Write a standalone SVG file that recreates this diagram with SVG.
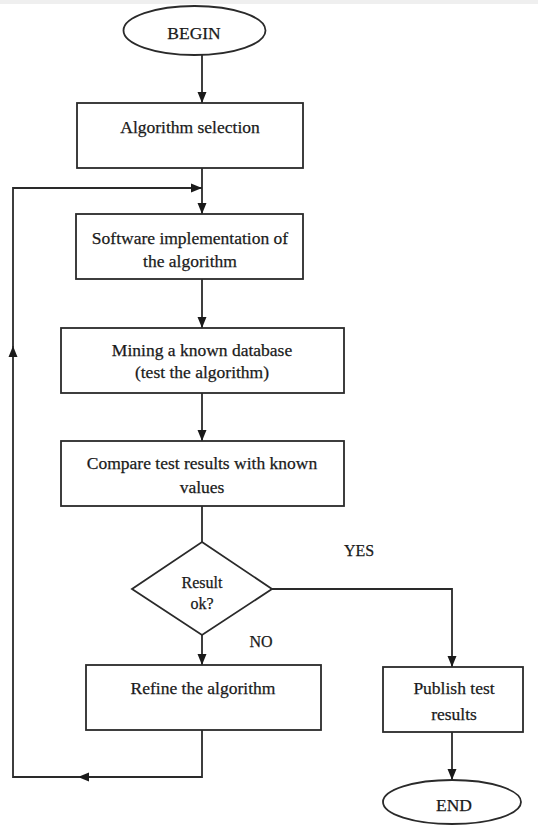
<svg xmlns="http://www.w3.org/2000/svg" width="538" height="825" viewBox="0 0 538 825">
<style>
.s{fill:#fff;stroke:#2a2a2a;stroke-width:1.8}
.c{fill:none;stroke:#2a2a2a;stroke-width:1.8}
.t{font-family:"Liberation Serif","Times New Roman",serif;font-size:17.5px;fill:#1a1a1a;stroke:#1a1a1a;stroke-width:0.25;text-anchor:middle}
.m{font-size:16px}
</style>
<defs>
<marker id="a" viewBox="0 0 11 10" refX="11" refY="5" markerWidth="11" markerHeight="10" markerUnits="userSpaceOnUse" orient="auto">
<path d="M0,0.5 L11,5 L0,9.5 Z" fill="#1a1a1a"/>
</marker>
</defs>
<rect x="0" y="0" width="538" height="4" fill="#efefef"/>
<g id="connectors">
<line class="c" x1="202" y1="55" x2="202" y2="103" marker-end="url(#a)"/>
<line class="c" x1="202" y1="168" x2="202" y2="214" marker-end="url(#a)"/>
<line class="c" x1="202" y1="279" x2="202" y2="328" marker-end="url(#a)"/>
<line class="c" x1="202" y1="393" x2="202" y2="441" marker-end="url(#a)"/>
<line class="c" x1="202" y1="506" x2="202" y2="542"/>
<polyline class="c" points="272,589 452,589 452,667" marker-end="url(#a)"/>
<line class="c" x1="202" y1="635" x2="202" y2="665" marker-end="url(#a)"/>
<line class="c" x1="452" y1="732" x2="452" y2="780" marker-end="url(#a)"/>
<polyline class="c" points="202,730 202,777 78,777" marker-end="url(#a)"/>
<polyline class="c" points="80,777 13,777 13,346" marker-end="url(#a)"/>
<polyline class="c" points="13,348 13,188 202,188" marker-end="url(#a)"/>
<text class="t m" x="359" y="556">YES</text>
<text class="t m" x="261" y="647">NO</text>
</g>
<g id="begin">
<ellipse class="s" cx="194.5" cy="30.5" rx="71" ry="24.5"/>
<text class="t" x="194" y="39">BEGIN</text>
</g>
<g id="select">
<rect class="s" x="77" y="103" width="226" height="65"/>
<text class="t" x="190" y="133">Algorithm selection</text>
</g>
<g id="implement">
<rect class="s" x="76" y="214" width="227" height="65"/>
<text class="t" x="190" y="244">Software implementation of</text>
<text class="t" x="190" y="267">the algorithm</text>
</g>
<g id="mining">
<rect class="s" x="61" y="328" width="283" height="65"/>
<text class="t" x="202" y="356">Mining a known database</text>
<text class="t" x="202" y="378">(test the algorithm)</text>
</g>
<g id="compare">
<rect class="s" x="61" y="441" width="283" height="65"/>
<text class="t" x="202" y="469">Compare test results with known</text>
<text class="t" x="202" y="493">values</text>
</g>
<g id="decision">
<polygon class="s" points="202,542 272,589 202,635 132,589"/>
<text class="t m" x="202" y="588">Result</text>
<text class="t m" x="202" y="609">ok?</text>
</g>
<g id="refine">
<rect class="s" x="86" y="665" width="235" height="65"/>
<text class="t" x="203" y="694">Refine the algorithm</text>
</g>
<g id="publish">
<rect class="s" x="383" y="667" width="140" height="65"/>
<text class="t" x="454" y="694">Publish test</text>
<text class="t" x="454" y="720">results</text>
</g>
<g id="end">
<ellipse class="s" cx="452" cy="802" rx="69" ry="22"/>
<text class="t" x="454" y="811">END</text>
</g>
</svg>
